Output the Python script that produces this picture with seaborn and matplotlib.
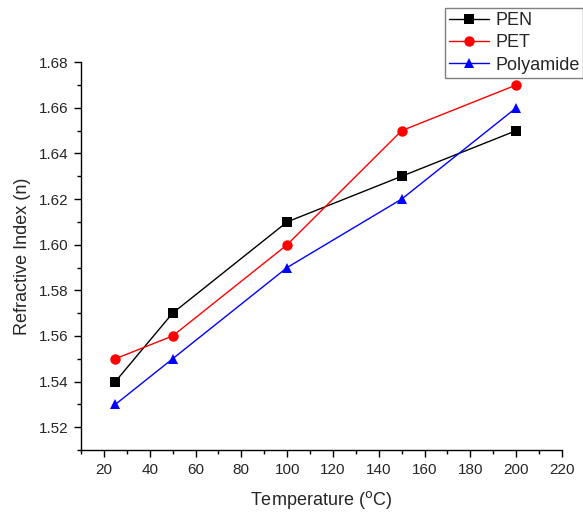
import matplotlib
matplotlib.use("Agg")
import matplotlib.pyplot as plt
import seaborn as sns
import pandas as pd
from matplotlib.ticker import MultipleLocator

temperature = [25, 50, 100, 150, 200]
pen = [1.54, 1.57, 1.61, 1.63, 1.65]
pet = [1.55, 1.56, 1.60, 1.65, 1.67]
polyamide = [1.53, 1.55, 1.59, 1.62, 1.66]
series_names = ["PEN", "PET", "Polyamide"]
y_ticks = [1.52, 1.54, 1.56, 1.58, 1.60, 1.62, 1.64, 1.66, 1.68]
x_ticks = [20, 40, 60, 80, 100, 120, 140, 160, 180, 200, 220]

df = pd.DataFrame({
    "Temperature": temperature * 3,
    "n": pen + pet + polyamide,
    "Material": [series_names[0]] * 5 + [series_names[1]] * 5 + [series_names[2]] * 5,
})

sns.set_style("ticks")
plt.rcParams['font.family'] = ['Liberation Sans', 'DejaVu Sans']

fig = plt.figure(figsize=(5.83, 5.14), dpi=100)
ax = fig.add_axes([0.139, 0.1245, 0.825, 0.7545])

sns.lineplot(data=df, x="Temperature", y="n", hue="Material", style="Material",
             palette={"PEN": "black", "PET": "red", "Polyamide": "blue"},
             markers={"PEN": "s", "PET": "o", "Polyamide": "^"},
             dashes=False, markersize=7.5, linewidth=1, markeredgewidth=0,
             ax=ax, legend=True)

ax.set_xlim(10, 220)
ax.set_ylim(1.51, 1.68)
ax.xaxis.set_minor_locator(MultipleLocator(10))
ax.yaxis.set_minor_locator(MultipleLocator(0.01))
ax.set_xticks(x_ticks)
ax.set_yticks(y_ticks)
ax.set_yticklabels([f"{v:.2f}" for v in y_ticks])
ax.tick_params(axis="both", which="major", direction="out", length=5, width=1, labelsize=11, color="black", pad=4)
ax.tick_params(axis="both", which="minor", direction="out", length=3, width=1, color="black")
for s in ["top", "right"]:
    ax.spines[s].set_visible(False)
for s in ["left", "bottom"]:
    ax.spines[s].set_color("black")
    ax.spines[s].set_linewidth(1)

ax.set_xlabel("Temperature ($^{\\mathrm{o}}$C)", fontsize=13, labelpad=9)
ax.set_ylabel("Refractive Index (n)", fontsize=13, labelpad=6)

h, l = ax.get_legend_handles_labels()
leg = fig.legend(h, l, loc="upper left", bbox_to_anchor=(445 / 583, 1 - 8 / 514), fontsize=13,
                 frameon=True, fancybox=False, edgecolor="gray", framealpha=1,
                 handlelength=2.2, handletextpad=0.35, borderpad=0.22, labelspacing=0.3,
                 borderaxespad=0)
leg.get_frame().set_linewidth(1)
ax.get_legend().remove()

fig.savefig("out.png", dpi=100)
